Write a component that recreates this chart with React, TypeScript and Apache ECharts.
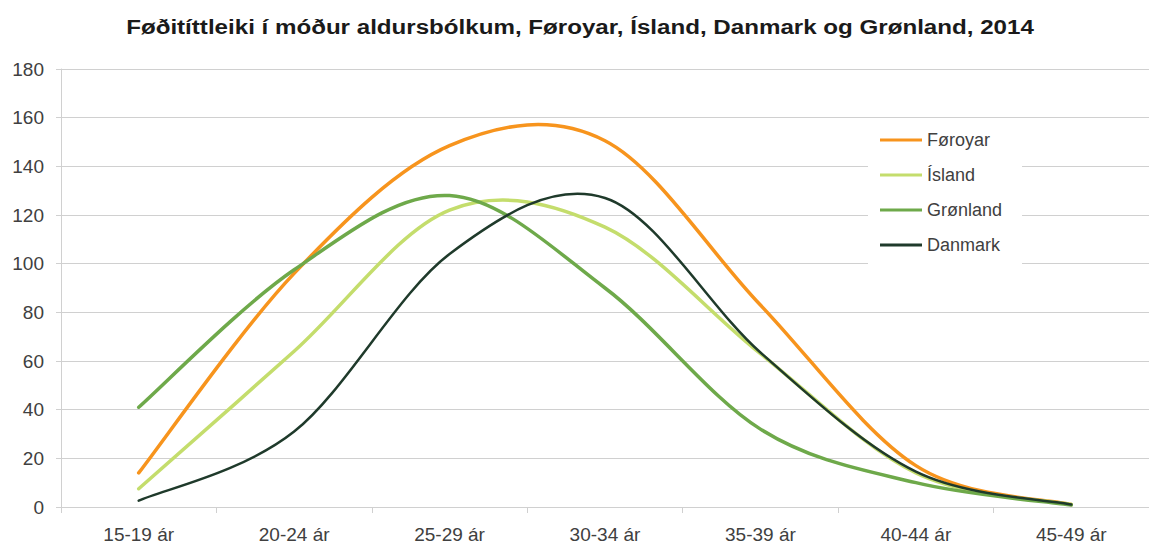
import React, { useEffect, useRef } from "react";
import * as echarts from "echarts";

const titleText = "Føðitíttleiki í móður aldursbólkum, Føroyar, Ísland, Danmark og Grønland, 2014";
const categories = ["15-19 ár", "20-24 ár", "25-29 ár", "30-34 ár", "35-39 ár", "40-44 ár", "45-49 ár"];
const faroe = [14, 96, 148.5, 150.5, 83, 17, 1];
const iceland = [7.5, 64, 122, 115, 63, 14, 1];
const greenland = [41, 97.5, 128, 90, 32, 10, 0.8];
const denmark = [2.6, 31, 104, 127, 63.5, 14.5, 1];
const yTicks = { min: 0, max: 180, interval: 20 };

const seriesDefs = [
  { name: "Føroyar", data: faroe, color: "#f7941d", width: 3.5 },
  { name: "Ísland", data: iceland, color: "#c4dd6c", width: 3.5 },
  { name: "Grønland", data: greenland, color: "#6ea94a", width: 3.5 },
  { name: "Danmark", data: denmark, color: "#1f3a2b", width: 2.5 },
];

// Catmull-Rom style smoothing (like a spreadsheet "smoothed line"), computed
// from points that the chart's own axes convert to pixels.
function smoothPath(pts: number[][]): string {
  const n = pts.length;
  let d = `M${pts[0][0]},${pts[0][1]}`;
  for (let i = 0; i < n - 1; i++) {
    const p0 = pts[Math.max(0, i - 1)];
    const p1 = pts[i];
    const p2 = pts[i + 1];
    const p3 = pts[Math.min(n - 1, i + 2)];
    const c1x = p1[0] + (p2[0] - p0[0]) / 6;
    const c1y = p1[1] + (p2[1] - p0[1]) / 6;
    const c2x = p2[0] - (p3[0] - p1[0]) / 6;
    const c2y = p2[1] - (p3[1] - p1[1]) / 6;
    d += ` C${c1x},${c1y} ${c2x},${c2y} ${p2[0]},${p2[1]}`;
  }
  return d;
}

export default function App() {
  const ref = useRef<HTMLDivElement>(null);
  useEffect(() => {
    document.body.style.margin = "0";
    const chart = echarts.init(ref.current!, null, { renderer: "svg" });
    const font = "Liberation Sans, Arial, sans-serif";
    chart.setOption({
      animation: false,
      backgroundColor: "#ffffff",
      graphic: [
        {
          type: "text",
          x: 580,
          y: 27,
          scaleX: 1.15,
          style: {
            text: titleText,
            fontFamily: font,
            fontSize: 21,
            fontWeight: "bold",
            fill: "#1a1a1a",
            textAlign: "center",
            textVerticalAlign: "middle",
          },
        },
      ],
      legend: {
        orient: "vertical",
        left: 868,
        top: 121,
        padding: [10, 20, 10, 12],
        backgroundColor: "#ffffff",
        itemWidth: 42,
        itemHeight: 3,
        itemGap: 17,
        textStyle: { fontFamily: font, fontSize: 18, color: "#404040" },
        data: seriesDefs.map((s) => ({ name: s.name, icon: "rect" })),
      },
      grid: { left: 61, top: 69, width: 1097, height: 438, containLabel: false },
      xAxis: {
        type: "category",
        data: categories,
        boundaryGap: true,
        axisLine: { show: true, lineStyle: { color: "#d0d0d0", width: 1 } },
        axisTick: { show: true, length: 6, lineStyle: { color: "#d0d0d0" } },
        axisLabel: { fontFamily: font, fontSize: 19, color: "#404040", margin: 18 },
        splitLine: { show: false },
      },
      yAxis: {
        type: "value",
        min: yTicks.min,
        max: yTicks.max,
        interval: yTicks.interval,
        axisLine: { show: true, lineStyle: { color: "#d0d0d0", width: 1 } },
        axisTick: { show: true, length: 5, lineStyle: { color: "#d0d0d0" } },
        axisLabel: { fontFamily: font, fontSize: 19, color: "#404040", margin: 17 },
        splitLine: { show: true, lineStyle: { color: "#d0d0d0", width: 1 } },
      },
      series: seriesDefs.map((s) => ({
        name: s.name,
        type: "custom",
        data: s.data.map((v, i) => [i, v]),
        encode: { x: 0, y: 1 },
        itemStyle: { color: s.color },
        renderItem: (params: any, api: any) => {
          if (params.dataIndex !== 0) return null;
          const pts = s.data.map((v, i) => api.coord([i, v]));
          return {
            type: "path",
            shape: { pathData: smoothPath(pts) },
            style: { fill: "none", stroke: s.color, lineWidth: s.width, lineCap: "round", lineJoin: "round" },
          };
        },
      })),
    });
    return () => chart.dispose();
  }, []);
  return <div ref={ref} style={{ width: 1149, height: 545 }} />;
}
